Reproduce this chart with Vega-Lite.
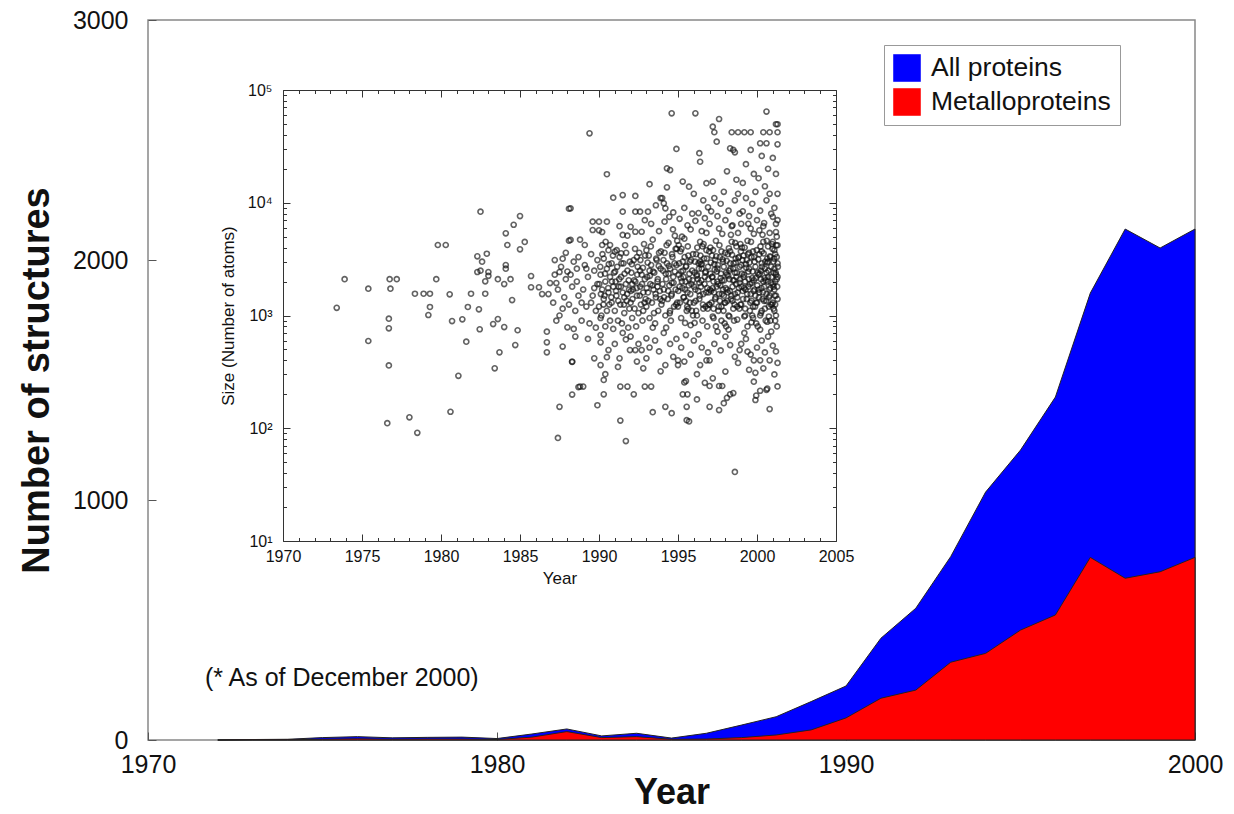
{
  "$schema": "https://vega.github.io/schema/vega-lite/v6.json",
  "width": 1047,
  "height": 720,
  "autosize": {"type": "none"},
  "padding": {"left": 148, "top": 20, "right": 39, "bottom": 74},
  "background": "white",
  "config": {
    "font": "Liberation Sans",
    "view": {"stroke": "#888", "strokeWidth": 1.5},
    "axis": {"grid": false, "labelColor": "#111", "titleColor": "#111", "labelOverlap": false, "labelFlush": false}
  },
  "datasets": {
    "counts": [
      {"year":1972,"series":"All proteins","n":0},{"year":1973,"series":"All proteins","n":2},{"year":1974,"series":"All proteins","n":3},{"year":1975,"series":"All proteins","n":10},{"year":1976,"series":"All proteins","n":14},{"year":1977,"series":"All proteins","n":9},{"year":1978,"series":"All proteins","n":11},{"year":1979,"series":"All proteins","n":12},{"year":1980,"series":"All proteins","n":6},{"year":1981,"series":"All proteins","n":25},{"year":1982,"series":"All proteins","n":46},{"year":1983,"series":"All proteins","n":17},{"year":1984,"series":"All proteins","n":28},{"year":1985,"series":"All proteins","n":8},{"year":1986,"series":"All proteins","n":28},{"year":1987,"series":"All proteins","n":62},{"year":1988,"series":"All proteins","n":97},{"year":1989,"series":"All proteins","n":160},{"year":1990,"series":"All proteins","n":225},{"year":1991,"series":"All proteins","n":424},{"year":1992,"series":"All proteins","n":549},{"year":1993,"series":"All proteins","n":764},{"year":1994,"series":"All proteins","n":1033},{"year":1995,"series":"All proteins","n":1208},{"year":1996,"series":"All proteins","n":1429},{"year":1997,"series":"All proteins","n":1862},{"year":1998,"series":"All proteins","n":2129},{"year":1999,"series":"All proteins","n":2050},{"year":2000,"series":"All proteins","n":2129},
      {"year":1972,"series":"Metalloproteins","n":0},{"year":1973,"series":"Metalloproteins","n":1},{"year":1974,"series":"Metalloproteins","n":1},{"year":1975,"series":"Metalloproteins","n":3},{"year":1976,"series":"Metalloproteins","n":5},{"year":1977,"series":"Metalloproteins","n":3},{"year":1978,"series":"Metalloproteins","n":4},{"year":1979,"series":"Metalloproteins","n":4},{"year":1980,"series":"Metalloproteins","n":2},{"year":1981,"series":"Metalloproteins","n":12},{"year":1982,"series":"Metalloproteins","n":35},{"year":1983,"series":"Metalloproteins","n":10},{"year":1984,"series":"Metalloproteins","n":14},{"year":1985,"series":"Metalloproteins","n":3},{"year":1986,"series":"Metalloproteins","n":4},{"year":1987,"series":"Metalloproteins","n":10},{"year":1988,"series":"Metalloproteins","n":21},{"year":1989,"series":"Metalloproteins","n":42},{"year":1990,"series":"Metalloproteins","n":92},{"year":1991,"series":"Metalloproteins","n":174},{"year":1992,"series":"Metalloproteins","n":208},{"year":1993,"series":"Metalloproteins","n":324},{"year":1994,"series":"Metalloproteins","n":361},{"year":1995,"series":"Metalloproteins","n":458},{"year":1996,"series":"Metalloproteins","n":521},{"year":1997,"series":"Metalloproteins","n":761},{"year":1998,"series":"Metalloproteins","n":674},{"year":1999,"series":"Metalloproteins","n":701},{"year":2000,"series":"Metalloproteins","n":761}
    ],
    "sizes": [
      {"yr":1973.4,"atoms":1170},{"yr":1973.9,"atoms":2100},{"yr":1975.4,"atoms":1730},{"yr":1975.4,"atoms":594},{"yr":1976.75,"atoms":2100},{"yr":1977.2,"atoms":2100},{"yr":1976.8,"atoms":1730},{"yr":1976.7,"atoms":938},{"yr":1976.7,"atoms":770},{"yr":1976.7,"atoms":361},{"yr":1976.6,"atoms":111},{"yr":1978.0,"atoms":125},{"yr":1978.5,"atoms":91},{"yr":1978.35,"atoms":1560},{"yr":1978.9,"atoms":1560},{"yr":1979.3,"atoms":1560},{"yr":1979.7,"atoms":2100},{"yr":1979.3,"atoms":1190},{"yr":1979.2,"atoms":1010},{"yr":1979.8,"atoms":4220},{"yr":1980.3,"atoms":4220},{"yr":1980.55,"atoms":1540},{"yr":1980.7,"atoms":893},{"yr":1981.35,"atoms":925},{"yr":1981.6,"atoms":586},{"yr":1981.1,"atoms":292},{"yr":1980.6,"atoms":140},{"yr":1981.7,"atoms":1190},{"yr":1981.9,"atoms":1560},{"yr":1982.8,"atoms":1560},{"yr":1982.4,"atoms":1135},{"yr":1982.45,"atoms":755},{"yr":1982.3,"atoms":3350},{"yr":1982.6,"atoms":3000},{"yr":1982.9,"atoms":3530},{"yr":1982.5,"atoms":8340},{"yr":1982.3,"atoms":2430},{"yr":1982.5,"atoms":2500},{"yr":1983.0,"atoms":2430},{"yr":1983.0,"atoms":2250},{"yr":1982.8,"atoms":2010},{"yr":1983.6,"atoms":2100},{"yr":1984.0,"atoms":1900},{"yr":1984.4,"atoms":2100},{"yr":1983.6,"atoms":930},{"yr":1983.3,"atoms":840},{"yr":1984.0,"atoms":790},{"yr":1984.85,"atoms":740},{"yr":1984.7,"atoms":547},{"yr":1983.7,"atoms":471},{"yr":1983.4,"atoms":340},{"yr":1984.5,"atoms":1370},{"yr":1984.1,"atoms":5360},{"yr":1984.6,"atoms":6380},{"yr":1985.0,"atoms":7620},{"yr":1984.2,"atoms":4220},{"yr":1985.0,"atoms":3860},{"yr":1985.3,"atoms":4490},{"yr":1984.1,"atoms":2800},{"yr":1984.1,"atoms":2600},{"yr":1985.7,"atoms":2240},{"yr":1985.7,"atoms":1780},{"yr":1986.2,"atoms":1780},{"yr":1986.4,"atoms":1550},{"yr":1986.8,"atoms":1550},{"yr":1986.9,"atoms":1940},{"yr":1987.3,"atoms":1940},{"yr":1987.2,"atoms":3100},{"yr":1987.7,"atoms":3190},{"yr":1988.1,"atoms":8850},{"yr":1988.1,"atoms":4610},{"yr":1987.5,"atoms":2430},{"yr":1986.7,"atoms":718},{"yr":1986.7,"atoms":578},{"yr":1986.7,"atoms":471},{"yr":1987.7,"atoms":530},{"yr":1988.3,"atoms":387},{"yr":1988.7,"atoms":232},{"yr":1988.3,"atoms":199},{"yr":1987.5,"atoms":155},{"yr":1987.4,"atoms":82},{"yr":1988.0,"atoms":785},{"yr":1988.4,"atoms":760},
      {"yr":1991.7,"atoms":77},{"yr":1991.35,"atoms":117},{"yr":1989.9,"atoms":160},{"yr":1993.4,"atoms":139},{"yr":1994.2,"atoms":155},{"yr":1994.6,"atoms":136},{"yr":1995.55,"atoms":155},{"yr":1995.55,"atoms":118},{"yr":1995.7,"atoms":115},{"yr":1997.0,"atoms":155},{"yr":1997.6,"atoms":145},{"yr":2000.8,"atoms":148},{"yr":2000.6,"atoms":219},{"yr":2000.65,"atoms":225},{"yr":2001.3,"atoms":235},{"yr":1999.9,"atoms":178},{"yr":1999.95,"atoms":195},{"yr":2000.2,"atoms":215},{"yr":1997.9,"atoms":167},{"yr":1998.1,"atoms":186},{"yr":1998.3,"atoms":200},{"yr":1998.5,"atoms":205},{"yr":1996.2,"atoms":180},{"yr":1995.3,"atoms":200},{"yr":1995.6,"atoms":200},{"yr":1996.7,"atoms":253},{"yr":1997.0,"atoms":237},{"yr":1997.6,"atoms":237},{"yr":1997.8,"atoms":237},{"yr":1995.4,"atoms":255},{"yr":1992.2,"atoms":200},{"yr":1990.3,"atoms":200},{"yr":1988.8,"atoms":234},{"yr":1989.0,"atoms":234},{"yr":1991.35,"atoms":234},{"yr":1991.8,"atoms":234},{"yr":1992.9,"atoms":234},{"yr":1993.3,"atoms":234},{"yr":1990.3,"atoms":268},{"yr":1995.5,"atoms":262},{"yr":1999.8,"atoms":259},{"yr":1998.6,"atoms":41},
      {"yr":1990.1,"atoms":671},{"yr":1990.1,"atoms":578},{"yr":1990.6,"atoms":494},{"yr":1990.5,"atoms":427},{"yr":1990.4,"atoms":302},{"yr":1990.1,"atoms":363},{"yr":1989.7,"atoms":417},{"yr":1991.3,"atoms":417},{"yr":1991.7,"atoms":614},{"yr":1991.96,"atoms":494},{"yr":1992.3,"atoms":494},{"yr":1992.7,"atoms":494},{"yr":1993.0,"atoms":628},{"yr":1993.55,"atoms":600},{"yr":1992.4,"atoms":390},{"yr":1993.0,"atoms":417},{"yr":1994.2,"atoms":363},{"yr":1995.0,"atoms":363},{"yr":1995.4,"atoms":390},{"yr":1994.7,"atoms":430},{"yr":1995.0,"atoms":400},{"yr":1996.2,"atoms":302},{"yr":1996.4,"atoms":363},{"yr":1997.2,"atoms":277},{"yr":1998.0,"atoms":318},{"yr":1998.3,"atoms":547},{"yr":1998.9,"atoms":494},{"yr":1999.4,"atoms":478},{"yr":1999.9,"atoms":310},{"yr":2000.2,"atoms":400},{"yr":2000.8,"atoms":400},{"yr":2001.3,"atoms":380},{"yr":1999.8,"atoms":400},{"yr":1996.8,"atoms":400},{"yr":1997.0,"atoms":400},{"yr":1995.5,"atoms":671},{"yr":1988.3,"atoms":390},
      {"yr":1991.0,"atoms":560},{"yr":1991.5,"atoms":700},{"yr":1992.0,"atoms":650},{"yr":1992.5,"atoms":560},{"yr":1993.2,"atoms":520},{"yr":1993.8,"atoms":480},{"yr":1994.1,"atoms":700},{"yr":1994.5,"atoms":560},{"yr":1994.9,"atoms":620},{"yr":1995.2,"atoms":520},{"yr":1995.8,"atoms":450},{"yr":1996.0,"atoms":600},{"yr":1996.5,"atoms":520},{"yr":1996.9,"atoms":470},{"yr":1997.3,"atoms":560},{"yr":1997.7,"atoms":490},{"yr":1998.0,"atoms":650},{"yr":1998.6,"atoms":430},{"yr":1999.0,"atoms":560},{"yr":1999.3,"atoms":620},{"yr":1999.6,"atoms":450},{"yr":2000.0,"atoms":520},{"yr":2000.3,"atoms":600},{"yr":2000.5,"atoms":470},{"yr":2000.7,"atoms":650},{"yr":2001.0,"atoms":540},{"yr":2001.2,"atoms":480},{"yr":1999.2,"atoms":700},{"yr":2000.9,"atoms":720},{"yr":1997.5,"atoms":720},{"yr":1996.3,"atoms":680},{"yr":1998.8,"atoms":380},{"yr":2000.4,"atoms":340},{"yr":2001.1,"atoms":300},{"yr":1999.5,"atoms":330},{"yr":1993.9,"atoms":320},{"yr":1992.8,"atoms":340},{"yr":1991.2,"atoms":350},
      {"yr":1987.1,"atoms":1300},{"yr":1987.2,"atoms":2300},{"yr":1987.4,"atoms":1700},{"yr":1987.5,"atoms":1000},{"yr":1987.6,"atoms":2700},{"yr":1987.8,"atoms":1450},{"yr":1987.9,"atoms":2100},{"yr":1987.3,"atoms":900},{"yr":1987.7,"atoms":1150},{"yr":1987.9,"atoms":3600},
      {"yr":1988.1,"atoms":1250},{"yr":1988.2,"atoms":2300},{"yr":1988.3,"atoms":1800},{"yr":1988.4,"atoms":3000},{"yr":1988.5,"atoms":1100},{"yr":1988.6,"atoms":2600},{"yr":1988.7,"atoms":1500},{"yr":1988.8,"atoms":4700},{"yr":1988.9,"atoms":900},{"yr":1988.2,"atoms":8930},{"yr":1988.2,"atoms":4680},{"yr":1988.5,"atoms":650},{"yr":1988.6,"atoms":2000},{"yr":1988.9,"atoms":1300},{"yr":1988.0,"atoms":2450},{"yr":1988.7,"atoms":3300},
      {"yr":1989.1,"atoms":4220},{"yr":1989.4,"atoms":41300},{"yr":1989.6,"atoms":6800},{"yr":1989.6,"atoms":5730},{"yr":1989.0,"atoms":1700},{"yr":1989.1,"atoms":2800},{"yr":1989.2,"atoms":1200},{"yr":1989.3,"atoms":2200},{"yr":1989.4,"atoms":850},{"yr":1989.5,"atoms":3500},{"yr":1989.6,"atoms":1500},{"yr":1989.7,"atoms":2500},{"yr":1989.8,"atoms":1100},{"yr":1989.9,"atoms":1900},{"yr":1989.9,"atoms":3100},{"yr":1989.3,"atoms":620},{"yr":1989.5,"atoms":1300},{"yr":1989.8,"atoms":780},{"yr":1989.2,"atoms":2600},{"yr":1989.7,"atoms":1750},
      {"yr":1990.0,"atoms":6800},{"yr":1990.5,"atoms":6800},{"yr":1990.2,"atoms":4220},{"yr":1990.7,"atoms":4220},{"yr":1990.5,"atoms":17900},{"yr":1990.9,"atoms":11100},{"yr":1990.0,"atoms":5700},{"yr":1990.2,"atoms":5500},{"yr":1990.0,"atoms":1200},{"yr":1990.1,"atoms":2300},{"yr":1990.1,"atoms":950},{"yr":1990.2,"atoms":1700},{"yr":1990.3,"atoms":3200},{"yr":1990.3,"atoms":1400},{"yr":1990.4,"atoms":2000},{"yr":1990.4,"atoms":800},{"yr":1990.5,"atoms":2600},{"yr":1990.5,"atoms":1100},{"yr":1990.6,"atoms":1600},{"yr":1990.6,"atoms":3800},{"yr":1990.7,"atoms":2200},{"yr":1990.7,"atoms":900},{"yr":1990.8,"atoms":1300},{"yr":1990.8,"atoms":2900},{"yr":1990.9,"atoms":1800},{"yr":1990.9,"atoms":760},{"yr":1990.95,"atoms":2400},{"yr":1990.35,"atoms":1500},{"yr":1990.15,"atoms":1000},{"yr":1990.65,"atoms":1250},
      {"yr":1991.0,"atoms":3680},{"yr":1991.4,"atoms":3560},{"yr":1991.5,"atoms":5180},{"yr":1991.5,"atoms":11700},{"yr":1991.5,"atoms":8340},{"yr":1991.0,"atoms":1100},{"yr":1991.05,"atoms":2000},{"yr":1991.1,"atoms":1500},{"yr":1991.15,"atoms":2700},{"yr":1991.2,"atoms":900},{"yr":1991.25,"atoms":1800},{"yr":1991.3,"atoms":3300},{"yr":1991.35,"atoms":1250},{"yr":1991.4,"atoms":2200},{"yr":1991.45,"atoms":850},{"yr":1991.5,"atoms":1600},{"yr":1991.55,"atoms":2900},{"yr":1991.6,"atoms":1050},{"yr":1991.65,"atoms":4200},{"yr":1991.7,"atoms":1900},{"yr":1991.75,"atoms":1350},{"yr":1991.8,"atoms":2500},{"yr":1991.85,"atoms":780},{"yr":1991.9,"atoms":1700},{"yr":1991.95,"atoms":3000},{"yr":1991.3,"atoms":6200},{"yr":1991.8,"atoms":5100},{"yr":1991.6,"atoms":1450},
      {"yr":1992.0,"atoms":6120},{"yr":1992.3,"atoms":5530},{"yr":1992.7,"atoms":5530},{"yr":1992.3,"atoms":8340},{"yr":1992.6,"atoms":8340},{"yr":1992.3,"atoms":11500},{"yr":1992.0,"atoms":1300},{"yr":1992.05,"atoms":2400},{"yr":1992.1,"atoms":950},{"yr":1992.15,"atoms":1700},{"yr":1992.2,"atoms":3100},{"yr":1992.25,"atoms":1150},{"yr":1992.3,"atoms":2000},{"yr":1992.35,"atoms":800},{"yr":1992.4,"atoms":1500},{"yr":1992.45,"atoms":2700},{"yr":1992.5,"atoms":1050},{"yr":1992.55,"atoms":3600},{"yr":1992.6,"atoms":1800},{"yr":1992.65,"atoms":1250},{"yr":1992.7,"atoms":2300},{"yr":1992.75,"atoms":900},{"yr":1992.8,"atoms":1600},{"yr":1992.85,"atoms":4300},{"yr":1992.9,"atoms":2100},{"yr":1992.95,"atoms":1400},{"yr":1992.1,"atoms":1900},{"yr":1992.4,"atoms":3300},{"yr":1992.6,"atoms":2500},{"yr":1992.8,"atoms":1100},{"yr":1992.9,"atoms":7000},
      {"yr":1993.1,"atoms":8340},{"yr":1993.2,"atoms":14600},{"yr":1993.0,"atoms":1200},{"yr":1993.05,"atoms":2200},{"yr":1993.1,"atoms":1600},{"yr":1993.15,"atoms":3400},{"yr":1993.2,"atoms":950},{"yr":1993.25,"atoms":1900},{"yr":1993.3,"atoms":2800},{"yr":1993.35,"atoms":1300},{"yr":1993.4,"atoms":4700},{"yr":1993.45,"atoms":1700},{"yr":1993.5,"atoms":2400},{"yr":1993.55,"atoms":850},{"yr":1993.6,"atoms":1450},{"yr":1993.65,"atoms":3100},{"yr":1993.7,"atoms":2000},{"yr":1993.75,"atoms":1100},{"yr":1993.8,"atoms":5600},{"yr":1993.85,"atoms":1650},{"yr":1993.9,"atoms":2600},{"yr":1993.95,"atoms":1250},{"yr":1993.0,"atoms":3800},{"yr":1993.3,"atoms":6500},{"yr":1993.6,"atoms":9500},{"yr":1993.9,"atoms":11000},{"yr":1993.4,"atoms":780},{"yr":1993.7,"atoms":1800},{"yr":1993.2,"atoms":2500},{"yr":1993.8,"atoms":3600},
      {"yr":1994.3,"atoms":20200},{"yr":1994.5,"atoms":19500},{"yr":1994.3,"atoms":13700},{"yr":1994.6,"atoms":62100},{"yr":1994.9,"atoms":30000},{"yr":1994.0,"atoms":11000},{"yr":1994.1,"atoms":9880},{"yr":1994.2,"atoms":8930},{"yr":1994.0,"atoms":1350},{"yr":1994.05,"atoms":2500},{"yr":1994.1,"atoms":1700},{"yr":1994.15,"atoms":3600},{"yr":1994.2,"atoms":1000},{"yr":1994.25,"atoms":2100},{"yr":1994.3,"atoms":2900},{"yr":1994.35,"atoms":1400},{"yr":1994.4,"atoms":4400},{"yr":1994.45,"atoms":1850},{"yr":1994.5,"atoms":2600},{"yr":1994.55,"atoms":900},{"yr":1994.6,"atoms":1550},{"yr":1994.65,"atoms":3300},{"yr":1994.7,"atoms":2200},{"yr":1994.75,"atoms":1200},{"yr":1994.8,"atoms":5100},{"yr":1994.85,"atoms":1700},{"yr":1994.9,"atoms":2800},{"yr":1994.95,"atoms":1300},{"yr":1994.15,"atoms":6800},{"yr":1994.45,"atoms":7500},{"yr":1994.7,"atoms":8200},{"yr":1994.85,"atoms":3900},{"yr":1994.25,"atoms":780},{"yr":1994.6,"atoms":1950},{"yr":1994.4,"atoms":2350},{"yr":1994.95,"atoms":4600},{"yr":1994.5,"atoms":1100},{"yr":1994.8,"atoms":2450},
      {"yr":1995.3,"atoms":15400},{"yr":1995.7,"atoms":13900},{"yr":1995.0,"atoms":1200},{"yr":1995.05,"atoms":2300},{"yr":1995.1,"atoms":1800},{"yr":1995.15,"atoms":3700},{"yr":1995.2,"atoms":950},{"yr":1995.25,"atoms":2000},{"yr":1995.3,"atoms":3000},{"yr":1995.35,"atoms":1450},{"yr":1995.4,"atoms":4800},{"yr":1995.45,"atoms":1700},{"yr":1995.5,"atoms":2700},{"yr":1995.55,"atoms":1100},{"yr":1995.6,"atoms":1600},{"yr":1995.65,"atoms":3400},{"yr":1995.7,"atoms":2100},{"yr":1995.75,"atoms":1300},{"yr":1995.8,"atoms":5800},{"yr":1995.85,"atoms":1900},{"yr":1995.9,"atoms":2500},{"yr":1995.95,"atoms":1000},{"yr":1995.1,"atoms":7200},{"yr":1995.4,"atoms":9000},{"yr":1995.6,"atoms":6300},{"yr":1995.9,"atoms":8000},{"yr":1995.2,"atoms":2450},{"yr":1995.5,"atoms":1350},{"yr":1995.8,"atoms":820},{"yr":1995.35,"atoms":2200},{"yr":1995.05,"atoms":4200},{"yr":1995.75,"atoms":3000},{"yr":1995.45,"atoms":860},{"yr":1995.95,"atoms":3500},{"yr":1995.65,"atoms":1150},{"yr":1995.25,"atoms":5000},
      {"yr":1996.1,"atoms":62100},{"yr":1996.35,"atoms":27500},{"yr":1996.4,"atoms":23100},{"yr":1996.8,"atoms":14900},{"yr":1996.0,"atoms":12000},{"yr":1996.6,"atoms":10500},{"yr":1996.0,"atoms":1300},{"yr":1996.05,"atoms":2400},{"yr":1996.1,"atoms":1700},{"yr":1996.15,"atoms":3500},{"yr":1996.2,"atoms":1000},{"yr":1996.25,"atoms":2100},{"yr":1996.3,"atoms":2900},{"yr":1996.35,"atoms":1400},{"yr":1996.4,"atoms":4500},{"yr":1996.45,"atoms":1800},{"yr":1996.5,"atoms":2600},{"yr":1996.55,"atoms":900},{"yr":1996.6,"atoms":1550},{"yr":1996.65,"atoms":3200},{"yr":1996.7,"atoms":2200},{"yr":1996.75,"atoms":1200},{"yr":1996.8,"atoms":5400},{"yr":1996.85,"atoms":1750},{"yr":1996.9,"atoms":2700},{"yr":1996.95,"atoms":1250},{"yr":1996.1,"atoms":6900},{"yr":1996.3,"atoms":8100},{"yr":1996.5,"atoms":5600},{"yr":1996.7,"atoms":7300},{"yr":1996.9,"atoms":9100},{"yr":1996.2,"atoms":2300},{"yr":1996.4,"atoms":3000},{"yr":1996.6,"atoms":1150},{"yr":1996.8,"atoms":3800},{"yr":1996.05,"atoms":860},{"yr":1996.35,"atoms":1950},{"yr":1996.55,"atoms":4100},{"yr":1996.75,"atoms":2450},{"yr":1996.95,"atoms":1600},{"yr":1996.15,"atoms":1100},{"yr":1996.45,"atoms":2850},{"yr":1996.85,"atoms":800},
      {"yr":1997.2,"atoms":47300},{"yr":1997.3,"atoms":42200},{"yr":1997.6,"atoms":55300},{"yr":1997.45,"atoms":34800},{"yr":1997.2,"atoms":15400},{"yr":1997.0,"atoms":1250},{"yr":1997.05,"atoms":2350},{"yr":1997.1,"atoms":1650},{"yr":1997.15,"atoms":3400},{"yr":1997.2,"atoms":980},{"yr":1997.25,"atoms":2000},{"yr":1997.3,"atoms":2850},{"yr":1997.35,"atoms":1400},{"yr":1997.4,"atoms":4600},{"yr":1997.45,"atoms":1800},{"yr":1997.5,"atoms":2600},{"yr":1997.55,"atoms":1100},{"yr":1997.6,"atoms":1550},{"yr":1997.65,"atoms":3300},{"yr":1997.7,"atoms":2150},{"yr":1997.75,"atoms":1200},{"yr":1997.8,"atoms":5300},{"yr":1997.85,"atoms":1700},{"yr":1997.9,"atoms":2700},{"yr":1997.95,"atoms":1300},{"yr":1997.0,"atoms":6500},{"yr":1997.1,"atoms":8400},{"yr":1997.3,"atoms":11000},{"yr":1997.5,"atoms":7600},{"yr":1997.7,"atoms":9800},{"yr":1997.9,"atoms":12500},{"yr":1997.15,"atoms":2200},{"yr":1997.35,"atoms":3100},{"yr":1997.55,"atoms":1900},{"yr":1997.75,"atoms":3700},{"yr":1997.95,"atoms":850},{"yr":1997.05,"atoms":4000},{"yr":1997.25,"atoms":1150},{"yr":1997.45,"atoms":2450},{"yr":1997.65,"atoms":1350},{"yr":1997.85,"atoms":3000},{"yr":1997.4,"atoms":800},{"yr":1997.6,"atoms":5900},{"yr":1997.8,"atoms":2050},{"yr":1997.2,"atoms":1750},{"yr":1997.9,"atoms":1500},
      {"yr":1998.4,"atoms":42200},{"yr":1998.8,"atoms":42200},{"yr":1998.3,"atoms":30400},{"yr":1998.5,"atoms":29400},{"yr":1998.6,"atoms":28000},{"yr":1998.1,"atoms":19000},{"yr":1998.7,"atoms":16000},{"yr":1998.0,"atoms":1300},{"yr":1998.05,"atoms":2400},{"yr":1998.1,"atoms":1700},{"yr":1998.15,"atoms":3500},{"yr":1998.2,"atoms":1000},{"yr":1998.25,"atoms":2100},{"yr":1998.3,"atoms":2900},{"yr":1998.35,"atoms":1400},{"yr":1998.4,"atoms":4500},{"yr":1998.45,"atoms":1800},{"yr":1998.5,"atoms":2600},{"yr":1998.55,"atoms":900},{"yr":1998.6,"atoms":1550},{"yr":1998.65,"atoms":3200},{"yr":1998.7,"atoms":2200},{"yr":1998.75,"atoms":1200},{"yr":1998.8,"atoms":5400},{"yr":1998.85,"atoms":1750},{"yr":1998.9,"atoms":2700},{"yr":1998.95,"atoms":1250},{"yr":1998.0,"atoms":7000},{"yr":1998.2,"atoms":8500},{"yr":1998.4,"atoms":6200},{"yr":1998.6,"atoms":10500},{"yr":1998.8,"atoms":12000},{"yr":1998.1,"atoms":2300},{"yr":1998.3,"atoms":3700},{"yr":1998.5,"atoms":1150},{"yr":1998.7,"atoms":4100},{"yr":1998.9,"atoms":1950},{"yr":1998.05,"atoms":800},{"yr":1998.25,"atoms":2500},{"yr":1998.45,"atoms":1350},{"yr":1998.65,"atoms":2950},{"yr":1998.85,"atoms":3300},{"yr":1998.15,"atoms":1600},{"yr":1998.35,"atoms":5200},{"yr":1998.55,"atoms":2050},{"yr":1998.75,"atoms":1450},{"yr":1998.95,"atoms":4300},{"yr":1998.2,"atoms":750},{"yr":1998.6,"atoms":2400},{"yr":1998.9,"atoms":8000},
      {"yr":1999.2,"atoms":42200},{"yr":1999.6,"atoms":42200},{"yr":1999.6,"atoms":29400},{"yr":1999.3,"atoms":22000},{"yr":1999.8,"atoms":18000},{"yr":1999.1,"atoms":15000},{"yr":1999.0,"atoms":1250},{"yr":1999.05,"atoms":2350},{"yr":1999.1,"atoms":1650},{"yr":1999.15,"atoms":3400},{"yr":1999.2,"atoms":980},{"yr":1999.25,"atoms":2000},{"yr":1999.3,"atoms":2850},{"yr":1999.35,"atoms":1400},{"yr":1999.4,"atoms":4600},{"yr":1999.45,"atoms":1800},{"yr":1999.5,"atoms":2600},{"yr":1999.55,"atoms":1100},{"yr":1999.6,"atoms":1550},{"yr":1999.65,"atoms":3300},{"yr":1999.7,"atoms":2150},{"yr":1999.75,"atoms":1200},{"yr":1999.8,"atoms":5300},{"yr":1999.85,"atoms":1700},{"yr":1999.9,"atoms":2700},{"yr":1999.95,"atoms":1300},{"yr":1999.0,"atoms":6500},{"yr":1999.1,"atoms":8400},{"yr":1999.3,"atoms":11000},{"yr":1999.5,"atoms":7600},{"yr":1999.7,"atoms":9800},{"yr":1999.9,"atoms":12500},{"yr":1999.15,"atoms":2200},{"yr":1999.35,"atoms":3100},{"yr":1999.55,"atoms":1900},{"yr":1999.75,"atoms":3700},{"yr":1999.95,"atoms":850},{"yr":1999.05,"atoms":4000},{"yr":1999.25,"atoms":1150},{"yr":1999.45,"atoms":2450},{"yr":1999.65,"atoms":1350},{"yr":1999.85,"atoms":3000},{"yr":1999.4,"atoms":800},{"yr":1999.6,"atoms":5900},{"yr":1999.8,"atoms":2050},{"yr":1999.2,"atoms":1750},{"yr":1999.9,"atoms":1500},{"yr":1999.0,"atoms":2800},{"yr":1999.5,"atoms":3600},{"yr":1999.7,"atoms":1000},
      {"yr":2000.6,"atoms":64300},{"yr":2000.4,"atoms":42200},{"yr":2000.8,"atoms":42200},{"yr":2000.2,"atoms":33700},{"yr":2000.6,"atoms":33700},{"yr":2000.3,"atoms":26000},{"yr":2000.7,"atoms":20000},{"yr":2000.1,"atoms":16500},{"yr":2000.5,"atoms":14000},{"yr":2000.0,"atoms":1300},{"yr":2000.05,"atoms":2400},{"yr":2000.1,"atoms":1700},{"yr":2000.15,"atoms":3500},{"yr":2000.2,"atoms":1000},{"yr":2000.25,"atoms":2100},{"yr":2000.3,"atoms":2900},{"yr":2000.35,"atoms":1400},{"yr":2000.4,"atoms":4500},{"yr":2000.45,"atoms":1800},{"yr":2000.5,"atoms":2600},{"yr":2000.55,"atoms":900},{"yr":2000.6,"atoms":1550},{"yr":2000.65,"atoms":3200},{"yr":2000.7,"atoms":2200},{"yr":2000.75,"atoms":1200},{"yr":2000.8,"atoms":5400},{"yr":2000.85,"atoms":1750},{"yr":2000.9,"atoms":2700},{"yr":2000.95,"atoms":1250},{"yr":2000.0,"atoms":7000},{"yr":2000.2,"atoms":8500},{"yr":2000.4,"atoms":6200},{"yr":2000.6,"atoms":10500},{"yr":2000.8,"atoms":12000},{"yr":2000.1,"atoms":2300},{"yr":2000.3,"atoms":3700},{"yr":2000.5,"atoms":1150},{"yr":2000.7,"atoms":4100},{"yr":2000.9,"atoms":1950},{"yr":2000.05,"atoms":800},{"yr":2000.25,"atoms":2500},{"yr":2000.45,"atoms":1350},{"yr":2000.65,"atoms":2950},{"yr":2000.85,"atoms":3300},{"yr":2000.15,"atoms":1600},{"yr":2000.35,"atoms":5200},{"yr":2000.55,"atoms":2050},{"yr":2000.75,"atoms":1450},{"yr":2000.95,"atoms":4300},{"yr":2000.2,"atoms":750},{"yr":2000.6,"atoms":2400},{"yr":2000.9,"atoms":8000},{"yr":2000.3,"atoms":1100},{"yr":2000.7,"atoms":3000},{"yr":2000.4,"atoms":2000},{"yr":2000.8,"atoms":1500},
      {"yr":2001.3,"atoms":49700},{"yr":2001.3,"atoms":42200},{"yr":2001.3,"atoms":33000},{"yr":2001.2,"atoms":49700},{"yr":2001.0,"atoms":25000},{"yr":2001.2,"atoms":18000},{"yr":2001.3,"atoms":12000},{"yr":2001.0,"atoms":1300},{"yr":2001.05,"atoms":2400},{"yr":2001.1,"atoms":1700},{"yr":2001.15,"atoms":3500},{"yr":2001.2,"atoms":1000},{"yr":2001.25,"atoms":2100},{"yr":2001.3,"atoms":2900},{"yr":2001.0,"atoms":4500},{"yr":2001.05,"atoms":1800},{"yr":2001.1,"atoms":2600},{"yr":2001.15,"atoms":900},{"yr":2001.2,"atoms":5500},{"yr":2001.25,"atoms":3300},{"yr":2001.3,"atoms":1400},{"yr":2001.0,"atoms":7500},{"yr":2001.1,"atoms":9000},{"yr":2001.2,"atoms":6500},{"yr":2001.3,"atoms":4200},{"yr":2001.05,"atoms":1150},{"yr":2001.15,"atoms":2000},{"yr":2001.25,"atoms":800},{"yr":2001.3,"atoms":2200},{"yr":2001.1,"atoms":3800},{"yr":2001.2,"atoms":1500},{"yr":2001.3,"atoms":7000},
      {"yr":1990.02,"atoms":1900},{"yr":1990.08,"atoms":2700},{"yr":1990.12,"atoms":1550},{"yr":1990.22,"atoms":3500},{"yr":1990.28,"atoms":1250},{"yr":1990.38,"atoms":2350},{"yr":1990.42,"atoms":4500},{"yr":1990.58,"atoms":1750},{"yr":1990.62,"atoms":2850},{"yr":1990.78,"atoms":1450},{"yr":1990.82,"atoms":2000},{"yr":1990.88,"atoms":3400},
      {"yr":1991.02,"atoms":2450},{"yr":1991.08,"atoms":1650},{"yr":1991.12,"atoms":3800},{"yr":1991.22,"atoms":1350},{"yr":1991.28,"atoms":2100},{"yr":1991.38,"atoms":1800},{"yr":1991.42,"atoms":2900},{"yr":1991.58,"atoms":1250},{"yr":1991.62,"atoms":2350},{"yr":1991.72,"atoms":3600},{"yr":1991.78,"atoms":1550},{"yr":1991.88,"atoms":2050},{"yr":1991.92,"atoms":1150},
      {"yr":1992.02,"atoms":1650},{"yr":1992.08,"atoms":2850},{"yr":1992.12,"atoms":1400},{"yr":1992.22,"atoms":2050},{"yr":1992.28,"atoms":3900},{"yr":1992.38,"atoms":1750},{"yr":1992.42,"atoms":2300},{"yr":1992.58,"atoms":1500},{"yr":1992.62,"atoms":3100},{"yr":1992.72,"atoms":1900},{"yr":1992.78,"atoms":2650},{"yr":1992.88,"atoms":1300},{"yr":1992.92,"atoms":3400},
      {"yr":1993.02,"atoms":1750},{"yr":1993.08,"atoms":2950},{"yr":1993.12,"atoms":1350},{"yr":1993.22,"atoms":2250},{"yr":1993.28,"atoms":4100},{"yr":1993.38,"atoms":1850},{"yr":1993.42,"atoms":2450},{"yr":1993.58,"atoms":1550},{"yr":1993.62,"atoms":3200},{"yr":1993.72,"atoms":2100},{"yr":1993.78,"atoms":2750},{"yr":1993.88,"atoms":1400},{"yr":1993.92,"atoms":3700},{"yr":1993.48,"atoms":1050},
      {"yr":1994.02,"atoms":1900},{"yr":1994.08,"atoms":3100},{"yr":1994.12,"atoms":1450},{"yr":1994.22,"atoms":2350},{"yr":1994.28,"atoms":4200},{"yr":1994.38,"atoms":1650},{"yr":1994.42,"atoms":2750},{"yr":1994.58,"atoms":1500},{"yr":1994.62,"atoms":3500},{"yr":1994.72,"atoms":1950},{"yr":1994.78,"atoms":2900},{"yr":1994.88,"atoms":1250},{"yr":1994.92,"atoms":3900},{"yr":1994.48,"atoms":1050},{"yr":1994.68,"atoms":5800},
      {"yr":1995.02,"atoms":1650},{"yr":1995.08,"atoms":2900},{"yr":1995.12,"atoms":1300},{"yr":1995.18,"atoms":2150},{"yr":1995.22,"atoms":3900},{"yr":1995.28,"atoms":1750},{"yr":1995.32,"atoms":2500},{"yr":1995.38,"atoms":1450},{"yr":1995.42,"atoms":3300},{"yr":1995.48,"atoms":2000},{"yr":1995.52,"atoms":2750},{"yr":1995.58,"atoms":1200},{"yr":1995.62,"atoms":4100},{"yr":1995.68,"atoms":1850},{"yr":1995.72,"atoms":2350},{"yr":1995.78,"atoms":1550},{"yr":1995.82,"atoms":3100},{"yr":1995.88,"atoms":1100},{"yr":1995.92,"atoms":2050},
      {"yr":1996.02,"atoms":1800},{"yr":1996.08,"atoms":3000},{"yr":1996.12,"atoms":1350},{"yr":1996.18,"atoms":2250},{"yr":1996.22,"atoms":4000},{"yr":1996.28,"atoms":1650},{"yr":1996.32,"atoms":2600},{"yr":1996.38,"atoms":1500},{"yr":1996.42,"atoms":3400},{"yr":1996.48,"atoms":2050},{"yr":1996.52,"atoms":2850},{"yr":1996.58,"atoms":1250},{"yr":1996.62,"atoms":4300},{"yr":1996.68,"atoms":1900},{"yr":1996.72,"atoms":2400},{"yr":1996.78,"atoms":1600},{"yr":1996.82,"atoms":3200},{"yr":1996.88,"atoms":1150},{"yr":1996.92,"atoms":2100},{"yr":1996.98,"atoms":3700},
      {"yr":1997.02,"atoms":1700},{"yr":1997.08,"atoms":2950},{"yr":1997.12,"atoms":1300},{"yr":1997.18,"atoms":2200},{"yr":1997.22,"atoms":3800},{"yr":1997.28,"atoms":1600},{"yr":1997.32,"atoms":2550},{"yr":1997.38,"atoms":1450},{"yr":1997.42,"atoms":3350},{"yr":1997.48,"atoms":2000},{"yr":1997.52,"atoms":2800},{"yr":1997.58,"atoms":1200},{"yr":1997.62,"atoms":4200},{"yr":1997.68,"atoms":1850},{"yr":1997.72,"atoms":2350},{"yr":1997.78,"atoms":1550},{"yr":1997.82,"atoms":3150},{"yr":1997.88,"atoms":1100},{"yr":1997.92,"atoms":2050},{"yr":1997.98,"atoms":3600},{"yr":1997.25,"atoms":950},{"yr":1997.75,"atoms":900},
      {"yr":1998.02,"atoms":1750},{"yr":1998.08,"atoms":3050},{"yr":1998.12,"atoms":1350},{"yr":1998.18,"atoms":2250},{"yr":1998.22,"atoms":3950},{"yr":1998.28,"atoms":1650},{"yr":1998.32,"atoms":2600},{"yr":1998.38,"atoms":1500},{"yr":1998.42,"atoms":3450},{"yr":1998.48,"atoms":2050},{"yr":1998.52,"atoms":2900},{"yr":1998.58,"atoms":1250},{"yr":1998.62,"atoms":4400},{"yr":1998.68,"atoms":1900},{"yr":1998.72,"atoms":2400},{"yr":1998.78,"atoms":1600},{"yr":1998.82,"atoms":3250},{"yr":1998.88,"atoms":1150},{"yr":1998.92,"atoms":2100},{"yr":1998.98,"atoms":3700},{"yr":1998.25,"atoms":980},{"yr":1998.75,"atoms":920},{"yr":1998.45,"atoms":6300},
      {"yr":1999.02,"atoms":1800},{"yr":1999.08,"atoms":3100},{"yr":1999.12,"atoms":1400},{"yr":1999.18,"atoms":2300},{"yr":1999.22,"atoms":4000},{"yr":1999.28,"atoms":1700},{"yr":1999.32,"atoms":2650},{"yr":1999.38,"atoms":1550},{"yr":1999.42,"atoms":3500},{"yr":1999.48,"atoms":2100},{"yr":1999.52,"atoms":2950},{"yr":1999.58,"atoms":1300},{"yr":1999.62,"atoms":4500},{"yr":1999.68,"atoms":1950},{"yr":1999.72,"atoms":2450},{"yr":1999.78,"atoms":1650},{"yr":1999.82,"atoms":3300},{"yr":1999.88,"atoms":1200},{"yr":1999.92,"atoms":2150},{"yr":1999.98,"atoms":3800},{"yr":1999.25,"atoms":1000},{"yr":1999.75,"atoms":950},{"yr":1999.45,"atoms":6500},{"yr":1999.65,"atoms":870},
      {"yr":2000.02,"atoms":1850},{"yr":2000.08,"atoms":3150},{"yr":2000.12,"atoms":1450},{"yr":2000.18,"atoms":2350},{"yr":2000.22,"atoms":4100},{"yr":2000.28,"atoms":1750},{"yr":2000.32,"atoms":2700},{"yr":2000.38,"atoms":1600},{"yr":2000.42,"atoms":3550},{"yr":2000.48,"atoms":2150},{"yr":2000.52,"atoms":3000},{"yr":2000.58,"atoms":1350},{"yr":2000.62,"atoms":4600},{"yr":2000.68,"atoms":2000},{"yr":2000.72,"atoms":2500},{"yr":2000.78,"atoms":1700},{"yr":2000.82,"atoms":3350},{"yr":2000.88,"atoms":1250},{"yr":2000.92,"atoms":2200},{"yr":2000.98,"atoms":3900},{"yr":2000.25,"atoms":1050},{"yr":2000.75,"atoms":980},{"yr":2000.45,"atoms":6600},{"yr":2000.65,"atoms":880},{"yr":2000.15,"atoms":5700},{"yr":2000.85,"atoms":900},
      {"yr":2001.02,"atoms":1900},{"yr":2001.08,"atoms":3200},{"yr":2001.12,"atoms":1500},{"yr":2001.18,"atoms":2400},{"yr":2001.22,"atoms":4200},{"yr":2001.28,"atoms":1800},{"yr":2001.32,"atoms":2700},{"yr":2001.05,"atoms":3000},{"yr":2001.15,"atoms":1250},{"yr":2001.25,"atoms":5000},{"yr":2001.1,"atoms":1100},{"yr":2001.2,"atoms":2300}
    ]
  },
  "layer": [
    {
      "layer": [
        {
          "data": {"name": "counts"},
          "transform": [{"filter": "datum.series === 'All proteins'"}],
          "mark": {"type": "area", "stroke": "#222", "strokeWidth": 1},
          "encoding": {
            "x": {"field": "year", "type": "quantitative",
              "scale": {"domain": [1970, 2000], "nice": false, "zero": false},
              "axis": {"orient": "bottom", "values": [1970, 1980, 1990, 2000], "format": "d", "domain": false,
                "tickSize": -8, "tickColor": "#555", "labelFontSize": 25, "labelPadding": 20,
                "title": "Year", "titleFontSize": 36, "titleFontWeight": "bold", "titleY": 63, "titleBaseline": "alphabetic"}},
            "y": {"field": "n", "type": "quantitative", "stack": null,
              "scale": {"domain": [0, 3000], "nice": false},
              "axis": {"orient": "left", "values": [0, 1000, 2000, 3000], "format": "d", "domain": false,
                "tickSize": -8, "tickColor": "#555", "labelFontSize": 25, "labelPadding": 28,
                "title": "Number of structures", "titleFontSize": 38, "titleFontWeight": "bold",
                "titleX": -100, "titleY": 360, "titleAlign": "center", "titleBaseline": "alphabetic", "titleAngle": 270}},
            "color": {"field": "series", "type": "nominal",
              "scale": {"domain": ["All proteins", "Metalloproteins"], "range": ["#0000ff", "#ff0000"]},
              "legend": {"orient": "none", "legendX": 736, "legendY": 25, "title": null, "symbolType": "square",
                "symbolSize": 760, "symbolStrokeWidth": 0, "labelFontSize": 26.5, "labelOffset": 10, "labelLimit": 0, "padding": 9,
                "rowPadding": 6, "strokeColor": "#999", "fillColor": "white", "labelColor": "#111"}}
          }
        },
        {
          "data": {"name": "counts"},
          "transform": [{"filter": "datum.series === 'Metalloproteins'"}],
          "mark": {"type": "area", "stroke": "#222", "strokeWidth": 1},
          "encoding": {
            "x": {"field": "year", "type": "quantitative"},
            "y": {"field": "n", "type": "quantitative", "stack": null},
            "color": {"field": "series", "type": "nominal"}
          }
        },
        {
          "data": {"values": [{}]},
          "mark": {"type": "text", "align": "left", "baseline": "middle", "fontSize": 25, "color": "#111"},
          "encoding": {
            "x": {"datum": 1971.63, "type": "quantitative"},
            "y": {"datum": 258, "type": "quantitative"},
            "text": {"value": "(* As of December 2000)"}
          }
        }
      ]
    },
    {
      "layer": [
        {
          "data": {"name": "sizes"},
          "mark": {"type": "point", "filled": false, "size": 26, "strokeWidth": 1.6, "color": "#111", "opacity": 0.65},
          "encoding": {
            "x": {"field": "yr", "type": "quantitative",
              "scale": {"domain": [1970, 2005], "range": [135, 688], "nice": false, "zero": false},
              "axis": {"orient": "bottom", "offset": -199, "values": [1970, 1975, 1980, 1985, 1990, 1995, 2000, 2005], "format": "d",
                "tickSize": -7, "tickColor": "#333", "domain": true, "domainColor": "#333", "labelFontSize": 16, "labelPadding": 14,
                "title": "Year", "titleFontSize": 17, "titleFontWeight": "normal", "titlePadding": 6}},
            "y": {"field": "atoms", "type": "quantitative",
              "scale": {"type": "log", "domain": [10, 100000], "range": [521, 70], "nice": false},
              "axis": {"orient": "left", "offset": -135, "values": [10, 100, 1000, 10000, 100000],
                "labelExpr": "'10' + ['⁰','¹','²','³','⁴','⁵'][round(log(datum.value)/LN10)]",
                "tickSize": -7, "tickColor": "#333", "domain": true, "domainColor": "#333", "labelFontSize": 16, "labelPadding": 18,
                "title": "Size (Number of atoms)", "titleFontSize": 17, "titleFontWeight": "normal", "titlePadding": 10}}
          }
        },
        {
          "data": {"values": [{}]},
          "mark": {"type": "rect", "opacity": 0},
          "encoding": {
            "x": {"datum": 1970, "type": "quantitative",
              "scale": {"domain": [1970, 2005], "range": [135, 688], "nice": false, "zero": false},
              "axis": {"orient": "top", "offset": -70, "values": [1970, 1975, 1980, 1985, 1990, 1995, 2000, 2005],
                "tickSize": -7, "tickColor": "#333", "domain": true, "domainColor": "#333", "labels": false, "title": null}},
            "x2": {"datum": 2005},
            "y": {"datum": 10, "type": "quantitative",
              "scale": {"type": "log", "domain": [10, 100000], "range": [521, 70], "nice": false},
              "axis": {"orient": "right", "offset": -359, "values": [10, 100, 1000, 10000, 100000],
                "tickSize": -7, "tickColor": "#333", "domain": true, "domainColor": "#333", "labels": false, "title": null}},
            "y2": {"datum": 100000}
          }
        },
        {
          "data": {"values": [{}]},
          "mark": {"type": "rect", "opacity": 0},
          "encoding": {
            "x": {"datum": 1970, "type": "quantitative",
              "scale": {"domain": [1970, 2005], "range": [135, 688], "nice": false, "zero": false},
              "axis": {"orient": "bottom", "offset": -199, "values": [1971,1972,1973,1974,1976,1977,1978,1979,1981,1982,1983,1984,1986,1987,1988,1989,1991,1992,1993,1994,1996,1997,1998,1999,2001,2002,2003,2004],
                "tickSize": -3.5, "tickColor": "#333", "domain": false, "labels": false, "title": null}},
            "x2": {"datum": 2005},
            "y": {"datum": 10, "type": "quantitative",
              "scale": {"type": "log", "domain": [10, 100000], "range": [521, 70], "nice": false},
              "axis": {"orient": "left", "offset": -135, "values": [20,30,40,50,60,70,80,90,200,300,400,500,600,700,800,900,2000,3000,4000,5000,6000,7000,8000,9000,20000,30000,40000,50000,60000,70000,80000,90000],
                "tickSize": -3.5, "tickColor": "#333", "domain": false, "labels": false, "title": null}},
            "y2": {"datum": 100000}
          }
        },
        {
          "data": {"values": [{}]},
          "mark": {"type": "rect", "opacity": 0},
          "encoding": {
            "x": {"datum": 1970, "type": "quantitative",
              "scale": {"domain": [1970, 2005], "range": [135, 688], "nice": false, "zero": false},
              "axis": {"orient": "top", "offset": -70, "values": [1971,1972,1973,1974,1976,1977,1978,1979,1981,1982,1983,1984,1986,1987,1988,1989,1991,1992,1993,1994,1996,1997,1998,1999,2001,2002,2003,2004],
                "tickSize": -3.5, "tickColor": "#333", "domain": false, "labels": false, "title": null}},
            "x2": {"datum": 2005},
            "y": {"datum": 10, "type": "quantitative",
              "scale": {"type": "log", "domain": [10, 100000], "range": [521, 70], "nice": false},
              "axis": {"orient": "right", "offset": -359, "values": [20,30,40,50,60,70,80,90,200,300,400,500,600,700,800,900,2000,3000,4000,5000,6000,7000,8000,9000,20000,30000,40000,50000,60000,70000,80000,90000],
                "tickSize": -3.5, "tickColor": "#333", "domain": false, "labels": false, "title": null}},
            "y2": {"datum": 100000}
          }
        }
      ]
    }
  ],
  "resolve": {"scale": {"x": "independent", "y": "independent"}, "axis": {"x": "independent", "y": "independent"}}
}
